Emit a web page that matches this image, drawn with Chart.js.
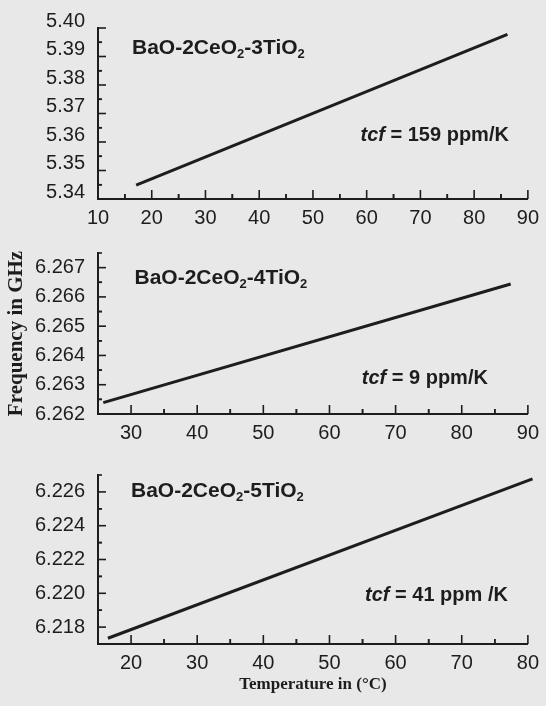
<!DOCTYPE html>
<html>
<head>
<meta charset="utf-8">
<script src="https://cdn.jsdelivr.net/npm/chart.js@4.4.1/dist/chart.umd.min.js"></script>
<style>
  html, body { margin: 0; padding: 0; background: #e8e8e8; }
  body { width: 546px; height: 706px; position: relative; overflow: hidden; }
  .panel { position: absolute; left: 0; width: 546px; }
  canvas { display: block; }
</style>
</head>
<body>
<div class="panel" style="top:0px;height:228px"><canvas id="c1" width="546" height="228"></canvas></div>
<div class="panel" style="top:228px;height:222px"><canvas id="c2" width="546" height="222"></canvas></div>
<div class="panel" style="top:450px;height:256px"><canvas id="c3" width="546" height="256"></canvas></div>
<script>
// BaO-2CeO2-3TiO2
const temp1 = [17.1, 86.2];
const freq1 = [5.3449, 5.3978];
const xTicks1 = [10, 20, 30, 40, 50, 60, 70, 80, 90];
const yTicks1 = [5.34, 5.35, 5.36, 5.37, 5.38, 5.39, 5.40];

// BaO-2CeO2-4TiO2
const temp2 = [25.8, 87.4];
const freq2 = [6.26239, 6.26644];
const xTicks2 = [30, 40, 50, 60, 70, 80, 90];
const yTicks2 = [6.262, 6.263, 6.264, 6.265, 6.266, 6.267];

// BaO-2CeO2-5TiO2
const temp3 = [16.5, 80.7];
const freq3 = [6.21734, 6.22677];
const xTicks3 = [20, 30, 40, 50, 60, 70, 80];
const yTicks3 = [6.218, 6.220, 6.222, 6.224, 6.226];

const formulas = ['BaO-2CeO₂-3TiO₂', 'BaO-2CeO₂-4TiO₂', 'BaO-2CeO₂-5TiO₂'];
const tcfValues = ['159 ppm/K', '9 ppm/K', '41 ppm /K'];

const ink = '#1d1d1d';
const sans = '"Liberation Sans", Arial, Helvetica, sans-serif';
const serif = '"Liberation Serif", "Times New Roman", serif';

// tick marks pointing into the plot, long at labels, short half way between
const innerTicks = {
  id: 'innerTicks',
  afterDatasetsDraw(chart) {
    const ctx = chart.ctx;
    const a = chart.chartArea;
    ctx.save();
    ctx.strokeStyle = ink;
    ctx.lineWidth = 1.6;
    ['x', 'y'].forEach(id => {
      const s = chart.scales[id];
      const vals = s.ticks.map(t => t.value);
      const half = (vals[1] - vals[0]) / 2;
      const marks = [];
      vals.forEach(v => {
        marks.push([v, 9]);
        marks.push([v - half, 5], [v + half, 5]);
      });
      marks.forEach(([v, len]) => {
        if (v < s.min - 1e-9 || v > s.max + 1e-9) return;
        const p = s.getPixelForValue(v);
        ctx.beginPath();
        if (id === 'x') {
          ctx.moveTo(p, a.bottom);
          ctx.lineTo(p, a.bottom - len);
        } else {
          ctx.moveTo(a.left, p);
          ctx.lineTo(a.left + len - 1, p);
        }
        ctx.stroke();
      });
    });
    ctx.restore();
  }
};

// compound name with subscripts and the tcf note
const panelText = {
  id: 'panelText',
  afterDatasetsDraw(chart, args, o) {
    const ctx = chart.ctx;
    const a = chart.chartArea;
    ctx.save();
    ctx.fillStyle = ink;
    ctx.textBaseline = 'alphabetic';
    ctx.textAlign = 'left';

    let x = a.left + o.formulaDx;
    const y = a.top + o.formulaDy;
    o.formula.split(/(₂)/).forEach(part => {
      if (!part) return;
      if (part === '₂') {
        ctx.font = 'bold 13px ' + sans;
        ctx.fillText('2', x, y + 4);
        x += ctx.measureText('2').width;
      } else {
        ctx.font = 'bold 21px ' + sans;
        ctx.fillText(part, x, y);
        x += ctx.measureText(part).width;
      }
    });

    const rest = ' = ' + o.tcf;
    ctx.font = 'bold 20px ' + sans;
    const wRest = ctx.measureText(rest).width;
    ctx.font = 'italic bold 20px ' + sans;
    const wTcf = ctx.measureText('tcf').width;
    const end = a.right - o.tcfRight;
    const ty = a.top + o.tcfDy;
    ctx.fillText('tcf', end - wRest - wTcf, ty);
    ctx.font = 'bold 20px ' + sans;
    ctx.fillText(rest, end - wRest, ty);
    ctx.restore();
  }
};

function buildPanel(id, p) {
  const points = p.temps.map((t, i) => ({ x: t, y: p.freqs[i] }));
  return new Chart(document.getElementById(id), {
    type: 'line',
    data: {
      datasets: [{
        data: points,
        borderColor: ink,
        borderWidth: 3,
        pointRadius: 0,
        tension: 0,
        clip: false
      }]
    },
    options: {
      responsive: false,
      animation: false,
      layout: { padding: { top: p.padTop, right: 15, left: 0, bottom: 0 } },
      plugins: {
        legend: { display: false },
        tooltip: { enabled: false },
        panelText: p.text
      },
      scales: {
        x: {
          type: 'linear',
          min: p.xRange[0],
          max: p.xRange[1],
          afterBuildTicks: s => { s.ticks = p.xTicks.map(v => ({ value: v })); },
          afterFit: s => { s.height = p.xHeight; },
          grid: { display: false, drawTicks: false },
          border: { display: true, color: ink, width: 2 },
          ticks: {
            color: ink,
            font: { family: sans, size: 20 },
            padding: 7,
            maxRotation: 0,
            autoSkip: false,
            callback: v => v.toFixed(0)
          },
          title: p.xTitle || { display: false }
        },
        y: {
          type: 'linear',
          min: p.yRange[0],
          max: p.yRange[1],
          afterBuildTicks: s => { s.ticks = p.yTicks.map(v => ({ value: v })); },
          afterFit: s => { s.width = 98; },
          grid: { display: false, drawTicks: false },
          border: { display: true, color: ink, width: 2 },
          ticks: {
            color: ink,
            font: { family: sans, size: 20 },
            padding: 13,
            labelOffset: p.labelOffset || 0,
            autoSkip: false,
            callback: v => v.toFixed(p.yDigits)
          },
          title: p.yTitle || { display: false }
        }
      }
    },
    plugins: [innerTicks, panelText]
  });
}

buildPanel('c1', {
  temps: temp1, freqs: freq1, xTicks: xTicks1, yTicks: yTicks1,
  xRange: [10, 90], yRange: [5.34, 5.40], yDigits: 2,
  padTop: 28, xHeight: 29, labelOffset: -7,
  text: { formula: formulas[0], tcf: tcfValues[0], formulaDx: 34, formulaDy: 26, tcfRight: 19, tcfDy: 112.5 }
});

buildPanel('c2', {
  temps: temp2, freqs: freq2, xTicks: xTicks2, yTicks: yTicks2,
  xRange: [25, 90], yRange: [6.262, 6.2675], yDigits: 3,
  padTop: 12, xHeight: 36,
  yTitle: {
    display: true, text: 'Frequency in GHz', color: ink,
    font: { family: serif, size: 21, weight: 'bold' },
    padding: { top: 4, bottom: 0 }
  },
  text: { formula: formulas[1], tcf: tcfValues[1], formulaDx: 36.5, formulaDy: 30.5, tcfRight: 40, tcfDy: 130.5 }
});

buildPanel('c3', {
  temps: temp3, freqs: freq3, xTicks: xTicks3, yTicks: yTicks3,
  xRange: [15, 80], yRange: [6.217, 6.227], yDigits: 3,
  padTop: 19, xHeight: 62,
  xTitle: {
    display: true, text: 'Temperature in (°C)', color: ink,
    font: { family: serif, size: 17, weight: 'bold' },
    padding: { top: 0, bottom: 11 }
  },
  text: { formula: formulas[2], tcf: tcfValues[2], formulaDx: 33, formulaDy: 21.5, tcfRight: 20, tcfDy: 125.5 }
});
</script>
</body>
</html>
